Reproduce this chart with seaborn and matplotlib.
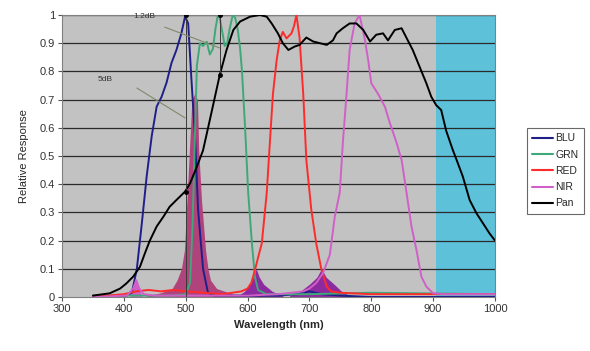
import numpy as np
import pandas as pd
import matplotlib
matplotlib.use("Agg")
import matplotlib.pyplot as plt
import seaborn as sns

# ---------------- data ----------------
blu_wl = [350, 380, 405, 413, 421, 429, 437, 445, 453, 461, 469, 477, 485, 493, 499, 504, 509, 515, 520, 528, 536, 545, 600, 650, 680, 700, 720, 750, 800, 1000]
blu_val = [0, 0, 0.005, 0.015, 0.1, 0.26, 0.43, 0.57, 0.675, 0.71, 0.76, 0.83, 0.876, 0.935, 0.995, 0.97, 0.78, 0.57, 0.31, 0.1, 0.015, 0.005, 0.005, 0.005, 0.01, 0.02, 0.01, 0.005, 0.0, 0.0]

grn_wl = [350, 480, 500, 507, 511, 515, 518, 523, 528, 534, 539, 544, 548, 552, 555, 560, 563, 567, 571, 576, 580, 584, 588, 591, 596, 601, 607, 612, 617, 630, 700, 800, 1000]
grn_val = [0.005, 0.005, 0.01, 0.05, 0.25, 0.58, 0.82, 0.9, 0.89, 0.905, 0.86, 0.88, 0.95, 1.0, 0.99, 0.93, 0.89, 0.9, 0.95, 1.0, 0.99, 0.95, 0.88, 0.8, 0.6, 0.37, 0.19, 0.07, 0.025, 0.01, 0.01, 0.015, 0.01]

red_wl = [350, 400, 420, 440, 460, 480, 500, 530, 560, 590, 600, 606, 612, 617, 623, 631, 636, 641, 647, 652, 657, 663, 671, 675, 679, 684, 690, 695, 703, 711, 719.5, 728, 735, 750, 800, 900, 1000]
red_val = [0, 0.01, 0.02, 0.025, 0.02, 0.025, 0.02, 0.015, 0.01, 0.02, 0.03, 0.05, 0.096, 0.14, 0.19, 0.37, 0.546, 0.72, 0.84, 0.91, 0.94, 0.917, 0.935, 0.96, 1.0, 0.92, 0.72, 0.486, 0.31, 0.19, 0.096, 0.037, 0.02, 0.015, 0.01, 0.01, 0.01]

nir_wl = [350, 405, 415, 420, 425, 432, 450, 500, 600, 650, 690, 700, 711, 722, 733, 741, 749, 754, 760, 765, 773, 781, 789, 795, 800, 811, 822, 830, 841, 849, 857, 865, 873, 881, 889, 900, 920, 1000]
nir_val = [0, 0.005, 0.03, 0.06, 0.03, 0.01, 0.005, 0.005, 0.005, 0.01, 0.02, 0.03, 0.05, 0.085, 0.15, 0.285, 0.37, 0.546, 0.72, 0.876, 0.97, 1.0, 0.92, 0.84, 0.758, 0.72, 0.675, 0.617, 0.546, 0.486, 0.37, 0.25, 0.167, 0.072, 0.037, 0.013, 0.01, 0.01]

pan_wl = [350, 377, 394, 404, 415, 426, 434, 442, 453, 464, 474, 485, 499, 507, 518, 528, 539, 555, 566, 577, 588, 604, 620, 631, 639, 649, 657, 666, 676, 684, 695, 706, 717, 728, 738, 744, 754, 765, 776, 787, 798, 808, 819, 827, 838, 849, 859, 867, 878, 889, 897, 905, 913, 921, 932, 940, 948, 959, 970, 981, 991, 1000]
pan_val = [0.005, 0.013, 0.03, 0.048, 0.072, 0.107, 0.155, 0.2, 0.25, 0.285, 0.32, 0.344, 0.374, 0.403, 0.462, 0.52, 0.628, 0.787, 0.876, 0.947, 0.977, 0.994, 1.0, 0.994, 0.97, 0.935, 0.9, 0.876, 0.888, 0.894, 0.92, 0.906, 0.9, 0.894, 0.91, 0.935, 0.953, 0.97, 0.97, 0.947, 0.906, 0.93, 0.935, 0.91, 0.947, 0.953, 0.91, 0.876, 0.817, 0.758, 0.71, 0.68, 0.663, 0.59, 0.52, 0.474, 0.427, 0.344, 0.297, 0.26, 0.226, 0.2]

leak_wl = [430, 460, 478, 486, 493, 498, 502, 506, 510, 514.5, 519, 521, 525.5, 532, 536, 540, 550, 570, 590]
leak_val = [0, 0.015, 0.03, 0.06, 0.1, 0.167, 0.344, 0.52, 0.7, 0.72, 0.7, 0.52, 0.344, 0.167, 0.1, 0.06, 0.03, 0.015, 0]

x1_wl = [585, 595, 603, 609, 614, 619, 626, 640, 657]
x1_val = [0.005, 0.02, 0.045, 0.07, 0.1, 0.07, 0.045, 0.02, 0.005]
x2_wl = [668, 685, 700, 712, 719.5, 727, 740, 752, 765]
x2_val = [0.005, 0.02, 0.045, 0.07, 0.1, 0.07, 0.045, 0.02, 0.005]
x0_wl = [410, 420, 430]
x0_val = [0.0, 0.06, 0.0]

band_names = ["BLU", "GRN", "RED", "NIR", "Pan"]
x_ticks = [300, 400, 500, 600, 700, 800, 900, 1000]
y_ticks = [0, 0.1, 0.2, 0.3, 0.4, 0.5, 0.6, 0.7, 0.8, 0.9, 1]
y_tick_labels = ["0", "0.1", "0.2", "0.3", "0.4", "0.5", "0.6", "0.7", "0.8", "0.9", "1"]

# ---------------- build frame ----------------
series = {"BLU": (blu_wl, blu_val), "GRN": (grn_wl, grn_val), "RED": (red_wl, red_val),
          "NIR": (nir_wl, nir_val), "Pan": (pan_wl, pan_val)}
rows = []
for name, (w, v) in series.items():
    assert len(w) == len(v), name
    for a, b in zip(w, v):
        rows.append((name, a, b))
df = pd.DataFrame(rows, columns=["band", "wl", "val"])

palette = {"BLU": "#1f1f8a", "GRN": "#3fa878", "RED": "#ff2b2b", "NIR": "#d060c8", "Pan": "#000000"}

sns.set_theme(style="white")
plt.rcParams["font.family"] = ["Liberation Sans", "DejaVu Sans"]

fig = plt.figure(figsize=(5.9, 3.51), dpi=100)
ax = fig.add_axes([62/590, 54/351, 433/590, 282/351])
ax.set_facecolor("#c2c2c2")

ax.axvspan(905, 1000, color="#5cc1d9", zorder=0.5, lw=0)
for yt in y_ticks[1:]:
    ax.axhline(yt, color="#2a2a2a", lw=0.9, zorder=1)

ax.fill_between(leak_wl, leak_val, color="#b0437c", lw=0, zorder=2)
ax.fill_between(x1_wl, x1_val, color="#8d2aa0", lw=0, zorder=2)
ax.fill_between(x2_wl, x2_val, color="#8d2aa0", lw=0, zorder=2)
ax.fill_between(x0_wl, x0_val, color="#d060c8", lw=0, zorder=2)

sns.lineplot(data=df, x="wl", y="val", hue="band", hue_order=band_names, palette=palette,
             estimator=None, sort=False, lw=1.4, ax=ax, legend=True, zorder=3)

# annotation markers
ax.plot([500, 500], [0, 1.0], color="#3a3a3a", lw=0.7, zorder=4)
ax.plot([555, 555], [0.787, 1.0], color="#3a3a3a", lw=0.7, zorder=4)
ax.plot([500, 500, 555, 555], [1.0, 0.374, 1.0, 0.787], "o", color="black", ms=2.5, zorder=5)
ax.plot([466, 555], [0.957, 0.883], color="#7f8a6a", lw=0.8, zorder=4)
ax.plot([421, 499], [0.741, 0.635], color="#7f8a6a", lw=0.8, zorder=4)
ax.text(434, 0.993, "1.2dB", fontsize=6, ha="center", va="center", color="#333333", zorder=6)
ax.text(370, 0.77, "5dB", fontsize=6, ha="center", va="center", color="#333333", zorder=6)

ax.set_xlim(300, 1000)
ax.set_ylim(0, 1)
ax.set_xticks(x_ticks)
ax.set_yticks(y_ticks)
ax.set_yticklabels(y_tick_labels)
ax.tick_params(axis="both", labelsize=8, length=3, width=0.8, color="#555555", direction="out",
               bottom=True, left=True, labelcolor="#333333", pad=2)
for s in ax.spines.values():
    s.set_color("#808080")
    s.set_linewidth(0.8)
ax.set_xlabel("Wavelength (nm)", fontsize=8, fontweight="bold", labelpad=4)
ax.set_ylabel("Relative Response", fontsize=8, labelpad=8)

handles, labels = ax.get_legend_handles_labels()
leg = ax.legend(handles, labels, loc="upper left", bbox_to_anchor=(522/590, (351-123)/351),
                bbox_transform=fig.transFigure, frameon=True, fontsize=7.5, handlelength=2.0,
                handletextpad=0.2, labelspacing=0.6, borderpad=0.5, fancybox=False)
leg.get_frame().set_edgecolor("#444444")
leg.get_frame().set_linewidth(0.8)
for h in leg.get_lines():
    h.set_linewidth(1.5)

fig.savefig("out.png", dpi=100)
